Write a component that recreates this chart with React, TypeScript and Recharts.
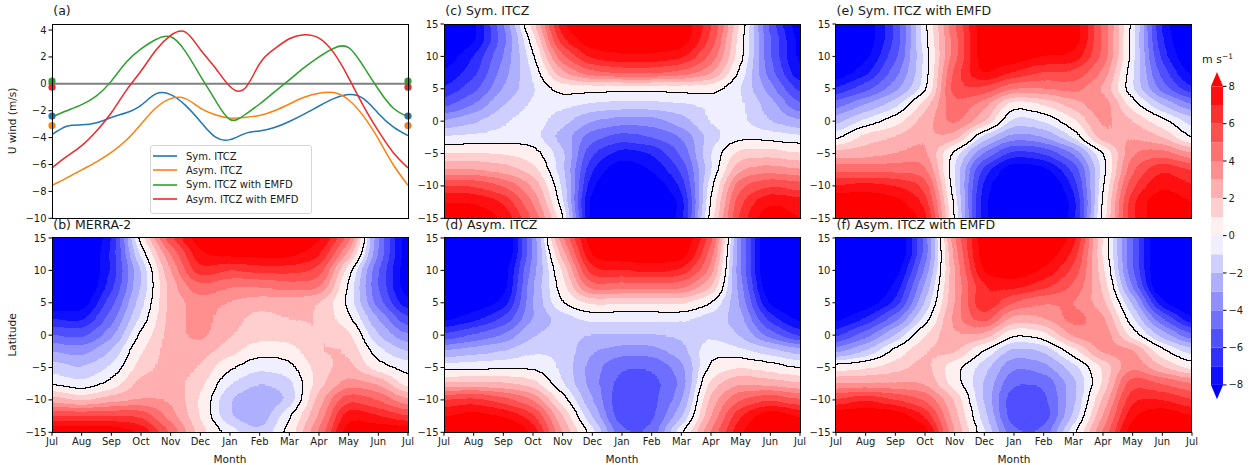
import React from "react";
import {
  ComposedChart,
  Line,
  Scatter,
  ScatterChart,
  XAxis,
  YAxis,
  ReferenceLine,
  Legend,
  BarChart,
  Bar,
} from "recharts";

// ---------- data ----------
const monthLabels = ["Jul", "Aug", "Sep", "Oct", "Nov", "Dec", "Jan", "Feb", "Mar", "Apr", "May", "Jun", "Jul"];
const monthTicks = [0, 1, 2, 3, 4, 5, 6, 7, 8, 9, 10, 11, 12];
const latitudes = [15, 12.5, 10, 7.5, 5, 2.5, 0, -2.5, -5, -7.5, -10, -12.5, -15];
const latTicks = [-15, -10, -5, 0, 5, 10, 15];
const uTicks = [-10, -8, -6, -4, -2, 0, 2, 4];

// panel (a): zonal wind, sampled every half month from Jul to Jul
const monthSteps = [0, 0.5, 1, 1.5, 2, 2.5, 3, 3.5, 4, 4.5, 5, 5.5, 6, 6.5, 7, 7.5, 8, 8.5, 9, 9.5, 10, 10.5, 11, 11.5, 12];
const uSym = [-3.77, -3.15, -3.05, -2.9, -2.5, -2.15, -1.6, -0.75, -0.8, -1.6, -2.8, -3.95, -4.15, -3.7, -3.5, -3.25, -2.8, -2.25, -1.65, -1.1, -0.8, -1.1, -2.2, -3.2, -3.85];
const uAsym = [-7.55, -7.0, -6.4, -5.8, -5.1, -4.2, -3.0, -1.8, -1.1, -1.1, -1.8, -2.3, -2.55, -2.5, -2.35, -2.0, -1.5, -1.0, -0.7, -0.65, -1.2, -2.4, -4.1, -6.0, -7.55];
const uSymEmfd = [-2.45, -2.0, -1.55, -0.9, 0.2, 1.6, 2.6, 3.3, 3.5, 2.4, 0.6, -1.2, -2.65, -2.3, -1.5, -0.6, 0.3, 1.2, 2.0, 2.65, 2.7, 1.3, -0.4, -1.8, -2.45];
const uAsymEmfd = [-6.25, -5.4, -4.6, -3.5, -2.15, -0.5, 0.95, 2.5, 3.6, 3.85, 2.55, 1.2, -0.2, -0.35, 1.5, 2.6, 3.35, 3.65, 3.4, 2.3, 0.45, -1.65, -3.5, -5.1, -6.25];
// observed annual-mean markers drawn at both ends
const markerValues = [-2.4, -3.1, 0.2, -0.25];
const seriesNames = ["Sym. ITCZ", "Asym. ITCZ", "Sym. ITCZ with EMFD", "Asym. ITCZ with EMFD"];
const seriesColors = ["#1f77b4", "#ff7f0e", "#2ca02c", "#f0282a"];

// contour fields, rows = latitudes (15 .. -15), cols = months (Jul .. Jul)
const fieldMerra = [
  [-10, -10, -7.5, 0.5, 6, 9, 9, 9, 9, 8.5, 5, -4, -9],
  [-10, -10, -7, -0.8, 4, 8, 8.5, 8.5, 8.5, 7.5, 3, -4, -9],
  [-10, -10, -7, -2, 3, 7, 6, 6.5, 6.5, 6, 0.5, -5, -9],
  [-10, -10, -6.5, -2, 2.5, 5, 4, 4, 4.5, 4.5, -0.2, -5, -9],
  [-9, -9, -5.5, -1.5, 2.5, 3.5, 3, 2.5, 2.5, 2, -0.2, -4.5, -8],
  [-7, -7.5, -4.5, -0.8, 2.5, 3.5, 2.5, 1.5, 2, 2, 0.3, -3, -6],
  [-5, -5.5, -3.5, 0.2, 2.5, 3.5, 2, 1.5, 1.5, 2, 1.5, -2, -4],
  [-3, -3.5, -2, 1, 2.5, 2.5, 1.5, 0.3, 0.5, 2, 2, -0.7, -2],
  [-1.5, -2, -1, 1.5, 2.5, 2, 0.1, -0.8, -0.5, 1.5, 2.5, 0.3, -0.5],
  [-0.2, -1, 0.1, 2.5, 2.5, 1.5, -1, -2, -1.5, 1.5, 3.5, 3, 0.3],
  [2.5, 1.5, 2.5, 3, 3, 1, -2, -3, -2, 2.5, 6, 5, 3],
  [6, 6, 6, 6, 3.5, 1, -2, -3, -0.3, 3, 8, 7, 6],
  [9, 9, 9, 8, 5, 1.5, -0.5, -2, 0.3, 4, 9, 9, 9],
];
const fieldSym = [
  [-10, -8.5, -4.3, 1.5, 8, 10, 10, 10, 9, 6.5, 1, -5.5, -9],
  [-10, -8.5, -4.5, 0.3, 7, 9, 9, 9, 9, 6, 0.5, -5, -8.5],
  [-9, -7, -4, -0.5, 5, 7.5, 8, 8, 7.5, 5, 0.5, -5, -8.5],
  [-8, -6.5, -3.5, -1, 3, 5, 5.5, 5.5, 5, 3.5, -0.3, -4.5, -8],
  [-7, -5.5, -3, -1.2, 0.5, 0.3, 0.2, 0.2, 0.3, 0.5, -1, -3.5, -6.5],
  [-5.5, -4, -2, -0.8, -0.7, -1.2, -1.3, -1.3, -1.2, -0.9, -0.7, -2.5, -5],
  [-3, -2.2, -1.2, -0.5, -1.5, -3, -3.5, -3.5, -2.5, -0.8, -0.7, -2, -3],
  [-1, -0.8, -0.7, -0.6, -2.5, -4.5, -5.5, -5, -4, -1.5, -0.3, -0.5, -0.8],
  [1, 1, 1, 0.5, -1.5, -6, -7.5, -7, -5, -1, 1.5, 1.5, 1],
  [3, 3, 2.5, 1.5, -1.5, -7, -9, -8, -6, -1.2, 3, 3.5, 3],
  [6, 6, 5, 3, -1, -8, -10, -9, -7, -0.5, 5, 6, 5.5],
  [8, 8, 7, 4, -0.5, -9, -10, -10, -8, 0, 6, 8, 7.5],
  [9, 9, 8, 5, 0.5, -9, -10, -10, -8, 0.5, 6.5, 9, 8],
];
const fieldAsym = [
  [-10, -10, -10, -4, 4, 9, 10, 10, 9.5, 6, -4, -10, -10],
  [-10, -10, -10, -4, 2.5, 8.5, 9, 9, 9, 5, -4, -10, -10],
  [-10, -10, -9, -3.5, 1, 7, 7, 7.5, 7, 4, -4, -10, -10],
  [-10, -10, -9, -3, 0.5, 5, 4.5, 4.5, 4.5, 2.5, -3.5, -9.5, -10],
  [-10, -9, -8, -3, 0, 1.3, 1.2, 1.2, 1.3, 0.1, -3, -8.5, -10],
  [-8.5, -7.5, -6, -3, -1.5, -0.7, -0.8, -0.8, -0.8, -1.5, -2.5, -6.5, -8.5],
  [-6, -5, -4, -2, -1.5, -2, -2, -2, -1.8, -1.2, -2, -4.5, -6.5],
  [-3, -2.5, -2, -1.2, -1.2, -3, -3.5, -3.5, -2.5, -0.2, -0.8, -1.5, -2.5],
  [-0.5, -0.4, -0.3, -0.2, -1.2, -3.5, -5, -5, -3.5, 0.3, 1, 0.5, -0.2],
  [2, 2, 2, 1.5, -1, -3.5, -5.5, -5.5, -4, 1.5, 3, 2.5, 2],
  [6, 6.5, 5.5, 4, 0.5, -3, -6, -5.5, -3.5, 2.5, 5, 6, 5],
  [8, 8.5, 8, 6.5, 2, -2, -6, -5.5, -2.5, 3, 7, 9, 8],
  [9, 10, 10, 8, 3, -0.5, -5, -5, -0.3, 4, 8, 10, 9],
];
const fieldSymEmfd = [
  [-10, -9, -6, -0.5, 5, 9, 10, 10, 9, 5, -0.2, -7.5, -10],
  [-10, -9, -6, -0.5, 4.5, 9, 10, 10, 9, 5, -0.5, -7, -10],
  [-10, -8.5, -5.5, -0.8, 4.5, 9, 9, 8, 8, 5, -0.5, -6.5, -9.5],
  [-9, -7.5, -4.5, -1, 5.5, 8.5, 7, 6, 6, 4, -0.8, -5.5, -8.5],
  [-7, -5.5, -3.5, -0.8, 6, 6, 4, 4, 4.5, 3, -1, -4.5, -7],
  [-4.5, -3, -1.5, 1.5, 5, 3.5, 0.1, 1, 2.5, 4, 0.5, -2, -4],
  [-2.5, -0.8, 0.5, 2.5, 4.5, 2.5, -1.5, -1, 0.7, 3.5, 2, 0.3, -1.5],
  [-0.6, 1.5, 2, 3, 3, -1.5, -3.5, -3, -1, 3, 3, 2, -0.4],
  [2.5, 2.5, 3, 3.5, -0.5, -4, -6.5, -6, -4, -0.3, 4, 4.5, 3],
  [4.5, 4.5, 4.5, 4.5, -1, -6.5, -9, -8.5, -6, -0.8, 5, 7, 6],
  [7, 7.5, 7, 6, -0.8, -7.5, -10, -10, -7, -0.3, 6, 8, 7],
  [9, 9, 8.5, 7, -0.3, -8, -10, -10, -8, 0, 7, 9, 8],
  [9, 9, 9, 8, -0.1, -8, -10, -10, -8, 0.3, 7, 9, 9],
];
const fieldAsymEmfd = [
  [-10, -10, -10, -5, 4, 9, 10, 10, 8, 1, -5, -10, -10],
  [-10, -10, -10, -5, 3.5, 9, 9, 9, 7, 1, -5, -10, -10],
  [-10, -10, -9, -4, 3, 8.5, 9, 8, 6, 1.5, -5, -10, -10],
  [-10, -10, -8, -3, 3, 7, 7.5, 6.5, 5, 2, -4, -10, -10],
  [-10, -9, -7, -2, 3, 7.5, 5, 4, 4, 2.5, -2, -8, -10],
  [-8.5, -7, -4.5, -0.8, 3.5, 6, 2.5, 3, 4.5, 3.5, -0.8, -5, -8],
  [-6.5, -4.5, -2, 1, 3, 3, -0.1, 0.5, 3.5, 4, 0.5, -2.5, -5],
  [-3.5, -2, 0.3, 2, 2.5, -0.2, -2.5, -2, 0.5, 3.5, 3.5, 0.2, -1.5],
  [0.5, 0.8, 1.5, 2.5, 0.3, -1.5, -4, -3.5, -1.5, 1, 4, 2, 0.5],
  [3, 3, 3, 3, 0.5, -2, -5, -5, -2.5, 1, 6, 5, 4],
  [6, 7, 6, 5, 2, -2, -6, -5.5, -2.5, 2, 7, 7, 6],
  [9, 9, 9, 7, 2.5, -1.5, -6, -6, -2, 3, 8, 9, 8],
  [10, 10, 10, 9, 3, -0.8, -5, -5, -0.5, 4, 9, 10, 10],
];

// colorbar levels
const cbLevels = [-8, -7, -6, -5, -4, -3, -2, -1, 0, 1, 2, 3, 4, 5, 6, 7, 8];
const cbTicks = [-8, -6, -4, -2, 0, 2, 4, 6, 8];

// ---------- layout ----------
const PW = 356;
const PH = 194.3;
const AX = 45;
const PT = 6;
const PR = 6;
const PB = 6;
const XB = 40;
const CW = PW / 12;
const CH = PH / 12;
const PAD = 40;
const ENC = 11;

const font = "'DejaVu Sans', sans-serif";
const minus = (v: number) => (v < 0 ? "\u2212" + Math.abs(v) : String(v));

// bwr colormap band colour for value v
function bwr(t: number) {
  if (t < 0.5) {
    const a = t / 0.5;
    return [a, a, 1];
  }
  const a = (1 - t) / 0.5;
  return [1, a, a];
}
function bandColor(v: number) {
  if (v >= cbLevels[cbLevels.length - 1]) return [1, 0, 0];
  if (v < cbLevels[0]) return [0, 0, 1];
  const m = Math.floor(v) + 0.5;
  return bwr((m + 8) / 16);
}
const toHex = (c: number[]) =>
  "#" + c.map((x) => Math.round(x * 255).toString(16).padStart(2, "0")).join("");

// gray encoding of a field value, decoded again by the filter's transfer tables
function encode(v: number) {
  const c = Math.max(-ENC, Math.min(ENC, v));
  const g = Math.round(((c + ENC) / (2 * ENC)) * 255);
  return `rgb(${g},${g},${g})`;
}
const TABLE_N = 220;
const tables = (() => {
  const r: string[] = [];
  const g: string[] = [];
  const b: string[] = [];
  for (let k = 0; k < TABLE_N; k++) {
    const v = -ENC + ((k + 0.5) * 2 * ENC) / TABLE_N;
    const c = bandColor(v);
    r.push(c[0].toFixed(4));
    g.push(c[1].toFixed(4));
    b.push(c[2].toFixed(4));
  }
  return { r: r.join(" "), g: g.join(" "), b: b.join(" ") };
})();

const tickStyle = { fontSize: 10, fill: "#1a1a1a", fontFamily: font };

function FieldCell(props: any) {
  const { cx, cy, payload } = props;
  if (cx == null || cy == null) return null;
  const x1 = cx - CW / 2 - (payload.m === 0 ? PAD : 0) - 0.6;
  const x2 = cx + CW / 2 + (payload.m === 12 ? PAD : 0) + 0.6;
  const y1 = cy - CH / 2 - (payload.lat === 15 ? PAD : 0) - 0.6;
  const y2 = cy + CH / 2 + (payload.lat === -15 ? PAD : 0) + 0.6;
  return <rect x={x1} y={y1} width={x2 - x1} height={y2 - y1} fill={encode(payload.v)} />;
}

type FieldProps = {
  left: number;
  top: number;
  grid: number[][];
  showX: boolean;
  title: string;
};

function Frame() {
  return (
    <div
      style={{
        position: "absolute",
        left: AX - 0.5,
        top: PT - 0.5,
        width: PW + 1,
        height: PH + 1,
        border: "1px solid #000",
        boxSizing: "border-box",
        pointerEvents: "none",
      }}
    />
  );
}

function FieldPanel({ left, top, grid, showX, title }: FieldProps) {
  const points: { m: number; lat: number; v: number }[] = [];
  grid.forEach((row, r) => row.forEach((v, c) => points.push({ m: monthTicks[c], lat: latitudes[r], v })));
  const h = PT + PH + (showX ? XB : PB);
  return (
    <>
      <div style={{ position: "absolute", left: left + 1, top: top - 20, fontSize: 12.5, lineHeight: "14px", whiteSpace: "nowrap" }}>
        {title}
      </div>
      <div className="cf" style={{ position: "absolute", left: left - AX, top: top - PT }}>
        <ScatterChart
          width={AX + PW + PR}
          height={h}
          margin={{ top: PT, right: PR, bottom: showX ? 0 : PB, left: 0 }}
        >
          <XAxis
            type="number"
            dataKey="m"
            domain={[0, 12]}
            ticks={monthTicks}
            interval={0}
            hide={!showX}
            height={XB}
            tickFormatter={(v: number) => monthLabels[v]}
            tick={tickStyle}
            tickSize={3.5}
            tickLine={{ stroke: "#000" }}
            axisLine={false}
            label={{ value: "Month", position: "insideBottom", offset: 9, style: { fontSize: 10.5, fill: "#1a1a1a" } }}
          />
          <YAxis
            type="number"
            dataKey="lat"
            domain={[-15, 15]}
            ticks={latTicks}
            interval={0}
            width={AX}
            tickFormatter={minus}
            tick={tickStyle}
            tickSize={3.5}
            tickLine={{ stroke: "#000" }}
            axisLine={false}
          />
          <Scatter data={points} shape={FieldCell} isAnimationActive={false} />
        </ScatterChart>
        <Frame />
      </div>
    </>
  );
}

const lineRows = monthSteps.map((m, i) => ({
  m,
  s0: uSym[i],
  s1: uAsym[i],
  s2: uSymEmfd[i],
  s3: uAsymEmfd[i],
}));

function LegendBox(props: any) {
  const items = (props.payload || [])
    .filter((p: any) => p.type !== "none" && seriesNames.indexOf(p.value) >= 0)
    .slice()
    .sort((a: any, b: any) => seriesNames.indexOf(a.value) - seriesNames.indexOf(b.value));
  return (
    <div
      style={{
        border: "1px solid #d6d6d6",
        borderRadius: 3,
        background: "rgba(255,255,255,0.9)",
        padding: "3px 6px 7px 2px",
        fontFamily: font,
      }}
    >
      {items.map((p: any) => (
        <div key={p.value} style={{ display: "flex", alignItems: "center", height: 14.3, fontSize: 10 }}>
          <svg width={24} height={4} style={{ display: "block" }}>
            <line x1={0} y1={2} x2={24} y2={2} stroke={p.color} strokeWidth={1.6} />
          </svg>
          <span style={{ marginLeft: 9, color: "#1a1a1a", whiteSpace: "nowrap" }}>{p.value}</span>
        </div>
      ))}
    </div>
  );
}

function WindPanel({ left, top }: { left: number; top: number }) {
  const cl = left - AX;
  const ct = top - PT;
  return (
    <>
      <div style={{ position: "absolute", left: left + 1, top: top - 20, fontSize: 12.5, lineHeight: "14px" }}>(a)</div>
      <div style={{ position: "absolute", left: cl, top: ct }}>
        <ComposedChart
          width={AX + PW + PR}
          height={PT + PH + PB}
          data={lineRows}
          margin={{ top: PT, right: PR, bottom: PB, left: 0 }}
        >
          <XAxis type="number" dataKey="m" domain={[0, 12]} hide />
          <YAxis
            type="number"
            domain={[-10, 4.45]}
            ticks={uTicks}
            interval={0}
            width={AX}
            tickFormatter={minus}
            tick={tickStyle}
            tickSize={3.5}
            tickLine={{ stroke: "#000" }}
            axisLine={false}
          />
          <ReferenceLine y={0} stroke="#808080" strokeWidth={2} />
          {seriesNames.map((name, i) => (
            <Line
              key={name}
              dataKey={`s${i}`}
              name={name}
              type="natural"
              stroke={seriesColors[i]}
              strokeWidth={1.5}
              dot={false}
              isAnimationActive={false}
            />
          ))}
          {markerValues.map((v, i) => (
            <Scatter
              key={`mk${i}`}
              data={[{ m: 0, u: v }, { m: 12, u: v }]}
              dataKey="u"
              legendType="none"
              isAnimationActive={false}
              shape={(p: any) => <circle cx={p.cx} cy={p.cy} r={3.6} fill={seriesColors[i]} />}
            />
          ))}
          <Legend
            layout="vertical"
            align="center"
            verticalAlign="middle"
            content={LegendBox}
            wrapperStyle={{ left: 150 - cl, top: 145 - ct, width: 162 }}
          />
        </ComposedChart>
        <Frame />
      </div>
    </>
  );
}

const EXT = 0.77;
function Colorbar() {
  const row: Record<string, any> = { name: "cb", lo: EXT, hi: EXT };
  cbLevels.slice(0, -1).forEach((lv, i) => {
    row[`b${i}`] = cbLevels[i + 1] - lv;
  });
  const total = 16 + 2 * EXT;
  return (
    <div style={{ position: "absolute", left: 1210.7, top: 71.7 }}>
      <BarChart width={12 + 30} height={327.3} data={[row]} margin={{ top: 0, right: 0, bottom: 0, left: 0 }} barCategoryGap={0}>
        <XAxis dataKey="name" hide />
        <YAxis
          orientation="right"
          type="number"
          domain={[0, total]}
          ticks={cbTicks.map((t) => t + 8 + EXT)}
          interval={0}
          width={30}
          tickFormatter={(v: number) => minus(Math.round(v - 8 - EXT))}
          tick={tickStyle}
          tickSize={3.5}
          tickLine={{ stroke: "#000" }}
          axisLine={false}
        />
        <Bar
          dataKey="lo"
          stackId="cb"
          fill="#0000ff"
          isAnimationActive={false}
          shape={(p: any) => (
            <polygon
              points={`${p.x},${p.y} ${p.x + p.width},${p.y} ${p.x + p.width / 2},${p.y + p.height}`}
              fill="#0000ff"
            />
          )}
        />
        {cbLevels.slice(0, -1).map((lv, i) => (
          <Bar
            key={i}
            dataKey={`b${i}`}
            stackId="cb"
            fill={toHex(bandColor(lv + 0.5))}
            isAnimationActive={false}
          />
        ))}
        <Bar
          dataKey="hi"
          stackId="cb"
          fill="#ff0000"
          isAnimationActive={false}
          shape={(p: any) => (
            <polygon
              points={`${p.x},${p.y + p.height} ${p.x + p.width},${p.y + p.height} ${p.x + p.width / 2},${p.y}`}
              fill="#ff0000"
            />
          )}
        />
      </BarChart>
    </div>
  );
}

export default function App() {
  const colL = 52.3;
  const colM = 444.3;
  const colR = 835.5;
  const rowT = 24.3;
  const rowB = 237.9;
  return (
    <div style={{ position: "relative", width: 1255, height: 465, background: "#fff", fontFamily: font, color: "#1a1a1a", overflow: "hidden" }}>
      <style>{`body{margin:0} .cf .recharts-scatter{filter:url(#contourFx);clip-path:url(#plotClip);}`}</style>
      <svg width={0} height={0} style={{ position: "absolute" }}>
        <defs>
          <clipPath id="plotClip" clipPathUnits="userSpaceOnUse">
            <rect x={AX} y={PT} width={PW} height={PH} />
          </clipPath>
          <filter id="contourFx" colorInterpolationFilters="sRGB" x="-10%" y="-10%" width="120%" height="120%">
            <feGaussianBlur in="SourceGraphic" stdDeviation="11 6" result="blur" />
            <feComponentTransfer in="blur" result="bandsRaw">
              <feFuncR type="discrete" tableValues={tables.r} />
              <feFuncG type="discrete" tableValues={tables.g} />
              <feFuncB type="discrete" tableValues={tables.b} />
            </feComponentTransfer>
            <feGaussianBlur in="bandsRaw" stdDeviation="0.75" result="bands" />
            <feColorMatrix in="blur" type="matrix" values="0 0 0 0 0  0 0 0 0 0  0 0 0 0 0  1 0 0 0 0" result="alpha" />
            <feComponentTransfer in="alpha" result="sign">
              <feFuncA type="discrete" tableValues="0 1" />
            </feComponentTransfer>
            <feMorphology in="sign" operator="dilate" radius="1" result="grown" />
            <feComposite in="grown" in2="sign" operator="out" result="edge" />
            <feGaussianBlur in="edge" stdDeviation="0.5" result="edgeSoft" />
            <feComponentTransfer in="edgeSoft" result="edgeBold">
              <feFuncA type="linear" slope="2.5" intercept="0" />
            </feComponentTransfer>
            <feFlood floodColor="#000" result="ink" />
            <feComposite in="ink" in2="edgeBold" operator="in" result="zeroLine" />
            <feMerge>
              <feMergeNode in="bands" />
              <feMergeNode in="zeroLine" />
            </feMerge>
          </filter>
        </defs>
      </svg>

      <WindPanel left={colL} top={rowT} />
      <FieldPanel left={colL} top={rowB} grid={fieldMerra} showX title="(b) MERRA-2" />
      <FieldPanel left={colM} top={rowT} grid={fieldSym} showX={false} title="(c) Sym. ITCZ" />
      <FieldPanel left={colM} top={rowB} grid={fieldAsym} showX title="(d) Asym. ITCZ" />
      <FieldPanel left={colR} top={rowT} grid={fieldSymEmfd} showX={false} title="(e) Sym. ITCZ with EMFD" />
      <FieldPanel left={colR} top={rowB} grid={fieldAsymEmfd} showX title="(f) Asym. ITCZ with EMFD" />

      <div
        style={{
          position: "absolute",
          left: 6,
          top: rowT + PH / 2,
          transform: "translate(-50%, -50%) rotate(-90deg)",
          fontSize: 10.5,
          whiteSpace: "nowrap",
          marginLeft: 6,
        }}
      >
        U wind (m/s)
      </div>
      <div
        style={{
          position: "absolute",
          left: 6,
          top: rowB + PH / 2,
          transform: "translate(-50%, -50%) rotate(-90deg)",
          fontSize: 10.5,
          whiteSpace: "nowrap",
          marginLeft: 6,
        }}
      >
        Latitude
      </div>

      <Colorbar />
      <div style={{ position: "absolute", left: 1202, top: 52, fontSize: 11, whiteSpace: "nowrap" }}>
        m s<sup style={{ fontSize: 7.5, verticalAlign: "4px" }}>{"\u22121"}</sup>
      </div>
    </div>
  );
}
